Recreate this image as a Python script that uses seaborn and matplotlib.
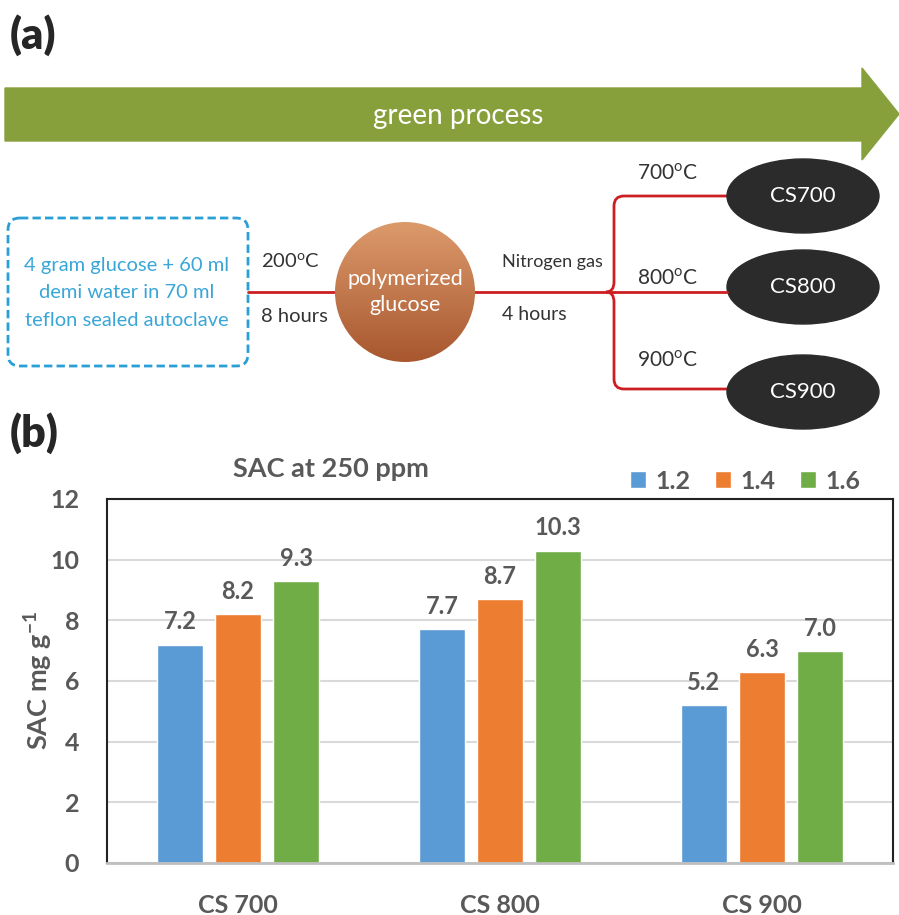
import matplotlib
matplotlib.use("Agg")
import matplotlib.pyplot as plt
import matplotlib.patches as mpatches
from matplotlib.path import Path
import numpy as np
import pandas as pd
import seaborn as sns

# Datos del gráfico (b)
categorias = ["CS 700", "CS 800", "CS 900"]
series = ["1.2", "1.4", "1.6"]
valores_12 = [7.2, 7.7, 5.2]
valores_14 = [8.2, 8.7, 6.3]
valores_16 = [9.3, 10.3, 7.0]
colores_series = ["#5b9bd5", "#ed7d31", "#70ad47"]
ticks_y = [0, 2, 4, 6, 8, 10, 12]

# Textos del esquema (a)
temperaturas = ["700", "800", "900"]
muestras = ["CS700", "CS800", "CS900"]

sns.set_style("white")
plt.rcParams["font.family"] = ["Lato", "DejaVu Sans"]
plt.rcParams["mathtext.fontset"] = "custom"
plt.rcParams["mathtext.rm"] = "Lato"
plt.rcParams["mathtext.bf"] = "Lato:bold"

gris = "#595959"
rojo = "#cc1f24"

fig = plt.figure(figsize=(8.99, 9.15), dpi=100)

# ---------------- esquema (a) en coordenadas de pixel ----------------
ax_d = fig.add_axes([0, 0, 1, 1])
ax_d.set_xlim(0, 899)
ax_d.set_ylim(915, 0)
ax_d.axis("off")

ax_d.text(10, 35, "(a)", fontsize=31, fontweight="heavy", va="center", ha="left")
ax_d.text(10, 433, "(b)", fontsize=31, fontweight="heavy", va="center", ha="left")

# flecha verde
flecha = mpatches.Polygon([(5, 88), (862, 88), (862, 68), (899, 114), (862, 160),
                           (862, 141), (5, 141)], closed=True, color="#88a03c")
ax_d.add_patch(flecha)
ax_d.text(458, 116, "green process", color="white", fontsize=20, ha="center", va="center")

# caja punteada
caja = mpatches.FancyBboxPatch((8, 218), 240, 148, boxstyle="round,pad=0,rounding_size=12",
                               fill=False, edgecolor="#2a9fd6", linewidth=2, linestyle=(0, (3, 1.5)))
ax_d.add_patch(caja)
for y, linea in zip([266, 293, 320], ["4 gram glucose + 60 ml", "demi water in 70 ml",
                                      "teflon sealed autoclave"]):
    ax_d.text(127, y, linea, color="#3aa6d8", fontsize=14.5, ha="center", va="center")

# lineas rojas
ax_d.plot([248, 336], [292, 292], color=rojo, lw=2)
ax_d.plot([474, 614], [292, 292], color=rojo, lw=2)
ax_d.text(261, 262, r"200$^{\mathrm{o}}$C", color="#333333", fontsize=14.5, va="center")
ax_d.text(261, 317, "8 hours", color="#333333", fontsize=14.5, va="center")
ax_d.text(502, 262, "Nitrogen gas", color="#333333", fontsize=13, va="center")
ax_d.text(502, 314, "4 hours", color="#333333", fontsize=14, va="center")

# circulo con degradado
circulo = mpatches.Circle((405, 292), 70, facecolor="none", edgecolor="none")
ax_d.add_patch(circulo)
grad = np.linspace(0, 1, 100).reshape(-1, 1)
cmap_cafe = matplotlib.colors.LinearSegmentedColormap.from_list("cafe", ["#dc9a6b", "#a8572f"])
img = ax_d.imshow(grad, extent=(335, 475, 362, 222), cmap=cmap_cafe, aspect="auto", zorder=2)
img.set_clip_path(circulo)
ax_d.set_xlim(0, 899)
ax_d.set_ylim(915, 0)
ax_d.text(405, 292, "polymerized\nglucose", color="white", fontsize=15.5, ha="center",
          va="center", linespacing=1.4, zorder=3)

# ramas
verts = [(727, 196), (624, 196), (614, 196), (614, 206), (614, 282), (614, 292), (606, 292)]
codes = [Path.MOVETO, Path.LINETO, Path.CURVE3, Path.CURVE3, Path.LINETO, Path.CURVE3, Path.CURVE3]
ax_d.add_patch(mpatches.PathPatch(Path(verts, codes), fill=False, edgecolor=rojo, lw=2))
verts = [(727, 389), (624, 389), (614, 389), (614, 379), (614, 302), (614, 292), (606, 292)]
ax_d.add_patch(mpatches.PathPatch(Path(verts, codes), fill=False, edgecolor=rojo, lw=2))
ax_d.plot([614, 727], [292, 292], color=rojo, lw=2)

for y_t, t in zip([173, 278, 360], temperaturas):
    ax_d.text(637, y_t, t + r"$^{\mathrm{o}}$C", color="#333333", fontsize=15, va="center")
for y_e, m in zip([196, 287, 392], muestras):
    ax_d.add_patch(mpatches.Ellipse((803, y_e), 152, 74, color="#2b2b2b"))
    ax_d.text(803, y_e, m, color="white", fontsize=16, ha="center", va="center")

# ---------------- grafico de barras (b) ----------------
datos = pd.DataFrame({
    "categoria": categorias * 3,
    "serie": [series[0]] * 3 + [series[1]] * 3 + [series[2]] * 3,
    "valor": valores_12 + valores_14 + valores_16,
})

ax = fig.add_axes([107 / 899, 52 / 915, 786 / 899, 364 / 915])
sns.barplot(data=datos, x="categoria", y="valor", hue="serie", palette=colores_series,
            width=0.665, gap=0.2, ax=ax, legend=True, saturation=1)

ax.set_ylim(0, 12)
ax.set_xlim(-0.5, 2.5)
ax.set_yticks(ticks_y)
ax.yaxis.grid(True, color="#d9d9d9", lw=1.5)
ax.set_axisbelow(True)
for lado in ["left", "top", "right"]:
    ax.spines[lado].set_color("#222222")
    ax.spines[lado].set_linewidth(1.5)
ax.spines["bottom"].set_color("#bfbfbf")
ax.spines["bottom"].set_linewidth(2)

ax.tick_params(axis="y", length=0, pad=20, labelsize=18, labelcolor=gris)
ax.tick_params(axis="x", length=0, pad=22, labelsize=18, labelcolor=gris)
for etiqueta in ax.get_xticklabels() + ax.get_yticklabels():
    etiqueta.set_fontweight("bold")

ax.set_xlabel("")
ax.set_ylabel("")
fig.text(38 / 899, 1 - 680 / 915, r"SAC mg g$^{\mathbf{-1}}$", fontsize=19.5, fontweight="bold",
         color=gris, rotation=90, ha="center", va="center")

for contenedor in ax.containers:
    ax.bar_label(contenedor, fmt="%.1f", padding=8, fontsize=17, fontweight="bold", color=gris)

fig.text(331 / 899, 1 - 469 / 915, "SAC at 250 ppm", fontsize=19.5, fontweight="bold",
         color=gris, ha="center", va="center")

manijas, textos = ax.get_legend_handles_labels()
ax.legend(manijas, textos, ncol=3, frameon=False, loc="center",
          bbox_to_anchor=(745 / 899, 1 - 481 / 915), bbox_transform=fig.transFigure,
          handlelength=0.65, handleheight=0.65, handletextpad=0.35, columnspacing=1.0,
          prop={"size": 18, "weight": "bold"}, labelcolor=gris)

fig.savefig("out.png", dpi=100)
